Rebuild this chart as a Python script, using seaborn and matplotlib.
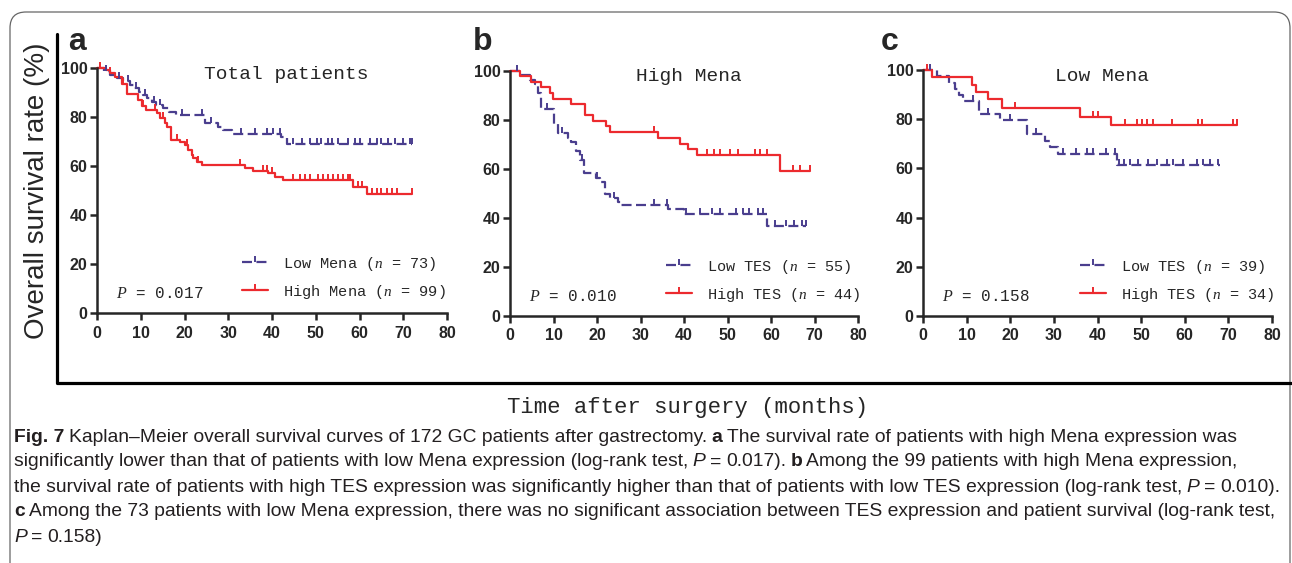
import numpy as np
import pandas as pd
import matplotlib
matplotlib.use("Agg")
import matplotlib.pyplot as plt
import seaborn as sns
from matplotlib.lines import Line2D
from matplotlib.markers import MarkerStyle
from matplotlib.path import Path
from matplotlib.patches import FancyBboxPatch
from matplotlib.offsetbox import TextArea, HPacker, AnchoredOffsetbox


# ---- panel a: all patients, Low vs High Mena ----
A_LOW_T = [0, 1.5, 3, 4.5, 6, 7.5, 8.5, 9.5, 10.5, 11.5, 12.5, 13.5, 15, 16.5, 18, 24.7, 27.7, 28.9, 30.9, 42, 43.4]
A_LOW_S = [100, 98.6, 97.3, 95.9, 94.5, 93.2, 91.8, 90.4, 89.0, 87.7, 86.3, 84.9, 83.6, 82.2, 80.8, 77.4, 76.0, 74.7, 73.2, 72.0, 69.0]
A_LOW_C = [2, 5, 7, 9, 11, 13, 14.5, 19.5, 24, 26, 33, 36, 38.8, 40.3, 41.8, 44.8, 46.8, 48.7, 50.2, 51.3,
           52.8, 53.6, 55, 57.4, 59, 60, 62.4, 63.9, 65, 66.5, 68.1, 70, 71.5, 72]
A_LOW_END = 72

A_HIGH_T = [0, 2, 3, 4.1, 5.6, 6.8, 9.4, 10.2, 11.3, 13.6, 14.4, 15.5, 15.9, 16.8, 19, 20.1, 20.9, 21.6, 22,
            22.8, 23.9, 33.8, 35.7, 39, 40.7, 42.6, 58.6, 61.7]
A_HIGH_S = [100, 99, 98, 96.5, 93.5, 89.5, 87, 84.5, 83, 81.5, 79.5, 77.5, 76, 70.6, 69.9, 68.6, 66.5, 64.5, 63.1,
            61.8, 60.4, 59.2, 58.1, 57.0, 55.6, 54.3, 51.5, 48.6]
A_HIGH_C = [0.7, 3, 6, 10.6, 13.3, 15.1, 18.2, 20.5, 23, 32.7, 38, 38.8, 40, 44.9, 46.4, 47.5, 48.7, 50.5, 51.7,
            52.9, 54, 55, 56.3, 57.4, 57.8, 59.7, 60.5, 62.8, 63.9, 65, 66.2, 67.4, 68.5, 72]
A_HIGH_END = 72

# ---- panel b: high Mena, Low vs High TES ----
B_LOW_T = [0, 2.5, 4.6, 5.7, 6.4, 7.1, 10, 11, 13.3, 14, 15.2, 16, 17, 19.8, 20.7, 21.8, 23, 24.8, 25.5, 36.3, 40, 59]
B_LOW_S = [100, 98.2, 96.4, 94.5, 90.9, 84.5, 78.2, 74.5, 72.7, 70.9, 67.3, 63.6, 58.2, 56.4, 54.5, 49.8, 48.0,
           46.4, 45.2, 43.6, 41.6, 36.5]
B_LOW_C = [1.5, 8.5, 12, 16.5, 20, 24, 33, 36, 40.5, 43.7, 46.4, 48.3, 52, 53.6, 55, 57, 58.2,
           61, 63.4, 65.3, 67.2, 68]
B_LOW_END = 68

B_HIGH_T = [0, 2.3, 4.8, 7.1, 9.1, 9.9, 14, 17.2, 19.1, 22, 22.9, 34, 39, 41, 43, 62]
B_HIGH_S = [100, 97.7, 95.5, 93.2, 90.9, 88.6, 86.4, 81.8, 79.5, 77.3, 75.0, 72.7, 70.3, 68.0, 65.7, 59.1]
B_HIGH_C = [33, 45.2, 47, 48.3, 50.6, 52.5, 56.3, 57.5, 59, 65, 66.7, 69]
B_HIGH_END = 69

# ---- panel c: low Mena, Low vs High TES ----
C_LOW_T = [0, 3.2, 6, 7.3, 8.3, 9.2, 12.8, 17.6, 23.8, 28, 29, 31, 44.5]
C_LOW_S = [100, 97.4, 94.9, 92.3, 89.7, 87.2, 82.0, 79.5, 74.0, 71.2, 68.6, 66.0, 61.5]
C_LOW_C = [1.5, 11.5, 15, 20, 26, 32, 35, 37.6, 39, 42, 44, 45, 46, 47.5, 49.3, 51.6, 53.6, 56, 57.3,
           59.6, 62.8, 64.2, 65.8, 67.6]
C_LOW_END = 68

C_HIGH_T = [0, 2, 11.2, 12.2, 15, 18, 36, 43]
C_HIGH_S = [100, 97.1, 94.1, 91.2, 88.2, 84.4, 81.0, 77.6]
C_HIGH_C = [1, 21, 39, 40, 46.3, 49, 50.2, 51.4, 52.8, 57, 63, 64, 71, 72]
C_HIGH_END = 72

TITLES = ["Total patients", "High Mena", "Low Mena"]
LETTERS = ["a", "b", "c"]
LOW_LABELS = ["Low Mena ($n$ = 73)", "Low TES ($n$ = 55)", "Low TES ($n$ = 39)"]
HIGH_LABELS = ["High Mena ($n$ = 99)", "High TES ($n$ = 44)", "High TES ($n$ = 34)"]
P_TEXTS = ["$P$ = 0.017", "$P$ = 0.010", "$P$ = 0.158"]
XTICKS = [0, 10, 20, 30, 40, 50, 60, 70, 80]
YTICKS = [0, 20, 40, 60, 80, 100]
YLABEL = "Overall survival rate (%)"
XLABEL = "Time after surgery (months)"

CAPTION = [
    [("Fig. 7", "b"), (" Kaplan–Meier overall survival curves of 172 GC patients after gastrectomy.", ""),
     ("a", "b"), ("The survival rate of patients with high Mena expression was", "")],
    [("significantly lower than that of patients with low Mena expression (log-rank test,", ""),
     ("P", "i"), ("=", ""), ("0.017).", ""), ("b", "b"), ("Among the 99 patients with high Mena expression,", "")],
    [("the survival rate of patients with high TES expression was significantly higher than that of patients "
      "with low TES expression (log-rank test,", ""), ("P", "i"), ("=", ""), ("0.010).", "")],
    [("c", "b"), ("Among the 73 patients with low Mena expression, there was no significant association between "
                  "TES expression and patient survival (log-rank test,", "")],
    [("P", "i"), ("=", ""), ("0.158)", "")],
]

PURPLE = "#4a3e8e"
RED = "#ec2a2e"
DASH = (0, (4.5, 2))
MONO = ["Liberation Mono", "DejaVu Sans Mono"]
SANS = ["Liberation Sans", "DejaVu Sans"]

W, H = 1292, 563

sns.set_style("ticks")
plt.rcParams["font.family"] = SANS
plt.rcParams["mathtext.fontset"] = "custom"
plt.rcParams["mathtext.it"] = "Liberation Serif:italic"
plt.rcParams["mathtext.rm"] = "Liberation Serif"

# censor tick: short vertical stroke pointing up from the curve
TICK = MarkerStyle(Path([(0, 0), (0, 1)]))


def fx(px):
    return px / W


def fy(py):
    return 1 - py / H


def km_frame(times, surv, end):
    return pd.DataFrame({"month": list(times) + [end], "surv": list(surv) + [surv[-1]]})


def censor_frame(times, surv, cens):
    idx = np.searchsorted(times, cens, side="right") - 1
    return pd.DataFrame({"month": cens, "surv": np.asarray(surv)[idx]})


def draw_panel(ax, curves, title, title_x, p_text, labels, leg_x):

    for t, s, c, end, color, ls in curves:
        sns.lineplot(
            data=km_frame(t, s, end), x="month", y="surv", ax=ax,
            color=color, linestyle=ls, linewidth=1.6,
            drawstyle="steps-post", estimator=None, sort=False, clip_on=False
        )
        sns.scatterplot(
            data=censor_frame(t, s, c), x="month", y="surv", ax=ax,
            marker=TICK, s=70, color=color, edgecolor=color,
            linewidth=1.4, clip_on=False, zorder=3
        )

    ax.set_xlim(0, 80)
    ax.set_ylim(0, 100)
    ax.set_xticks(XTICKS, labels=[str(v) for v in XTICKS],
                  fontfamily=SANS, fontweight="bold", fontsize=11.5)
    ax.set_yticks(YTICKS, labels=[str(v) for v in YTICKS],
                  fontfamily=SANS, fontweight="bold", fontsize=11.5)
    ax.set_xlabel("")
    ax.set_ylabel("")
    sns.despine(ax=ax)
    for side in ["left", "bottom"]:
        ax.spines[side].set_linewidth(1.8)
    ax.tick_params(width=1.8, length=5, pad=2)
    ax.tick_params(axis="x", pad=4)

    ax.text(title_x, 0.957, title, transform=ax.transAxes, ha="center", va="baseline",
            fontfamily=MONO, fontsize=14)
    ax.text(0.054, 0.06, p_text, transform=ax.transAxes, ha="left", va="baseline",
            fontfamily=MONO, fontsize=11.5)

    handles = [
        Line2D([], [], color=PURPLE, linestyle=DASH, lw=1.6, marker=TICK,
               markersize=8, markeredgewidth=1.4),
        Line2D([], [], color=RED, linestyle="-", lw=1.6, marker=TICK,
               markersize=8, markeredgewidth=1.4),
    ]
    ax.legend(handles, labels, loc="lower left", bbox_to_anchor=(leg_x, 0.05),
              frameon=False, borderpad=0, borderaxespad=0,
              prop={"family": MONO, "size": 11},
              handlelength=1.7, handletextpad=1.0, labelspacing=0.65)


fig = plt.figure(figsize=(W / 100, H / 100), dpi=100)

# outer rounded frame of the figure box
fig.add_artist(FancyBboxPatch(
    (0.10, -0.3), 12.80, 5.81, boxstyle="round,pad=0,rounding_size=0.16",
    transform=fig.dpi_scale_trans, facecolor="none", edgecolor="#666666", lw=0.9
))

boxes = [(97, 68, 447, 313), (510, 70.7, 858, 316), (923, 70, 1272, 316)]
curves_all = [
    [(A_LOW_T, A_LOW_S, A_LOW_C, A_LOW_END, PURPLE, DASH), (A_HIGH_T, A_HIGH_S, A_HIGH_C, A_HIGH_END, RED, "-")],
    [(B_LOW_T, B_LOW_S, B_LOW_C, B_LOW_END, PURPLE, DASH), (B_HIGH_T, B_HIGH_S, B_HIGH_C, B_HIGH_END, RED, "-")],
    [(C_LOW_T, C_LOW_S, C_LOW_C, C_LOW_END, PURPLE, DASH), (C_HIGH_T, C_HIGH_S, C_HIGH_C, C_HIGH_END, RED, "-")],
]
title_xs = [0.54, 0.514, 0.513]
leg_xs = [0.414, 0.448, 0.45]
letter_x = [77, 483, 890]

for i, (x0, y0, x1, y1) in enumerate(boxes):
    ax = fig.add_axes([fx(x0), fy(y1), fx(x1) - fx(x0), fy(y0) - fy(y1)])
    draw_panel(ax, curves_all[i], TITLES[i], title_xs[i], P_TEXTS[i],
               [LOW_LABELS[i], HIGH_LABELS[i]], leg_xs[i])
    fig.text(fx(letter_x[i]), fy(50), LETTERS[i], ha="center", va="baseline",
             fontsize=23, fontweight="bold")

# big L-shaped frame and shared axis titles
fig.add_artist(Line2D([fx(57), fx(57), 1.0], [fy(34), fy(383), fy(383)],
                      transform=fig.transFigure, color="black", lw=2.3))
fig.text(fx(37), fy(191), YLABEL, rotation=90, ha="center", va="center", fontsize=20)
fig.text(fx(688), fy(408), XLABEL, ha="center", va="center", fontfamily=MONO, fontsize=16)

# caption
styles = {"b": {"fontweight": "bold"}, "i": {"fontstyle": "italic"}, "": {}}
for k, line in enumerate(CAPTION):
    parts = []
    for text, st in line:
        props = {"fontfamily": SANS, "fontsize": 13.9, "color": "#231f20"}
        props.update(styles[st])
        parts.append(TextArea(text.strip(), textprops=props))
    box = AnchoredOffsetbox(
        loc="center left", child=HPacker(children=parts, align="baseline", pad=0, sep=3.2),
        pad=0, borderpad=0, frameon=False,
        bbox_to_anchor=(fx(14), fy(437 + 25 * k)), bbox_transform=fig.transFigure
    )
    fig.add_artist(box)

plt.savefig("out.png", dpi=100)
